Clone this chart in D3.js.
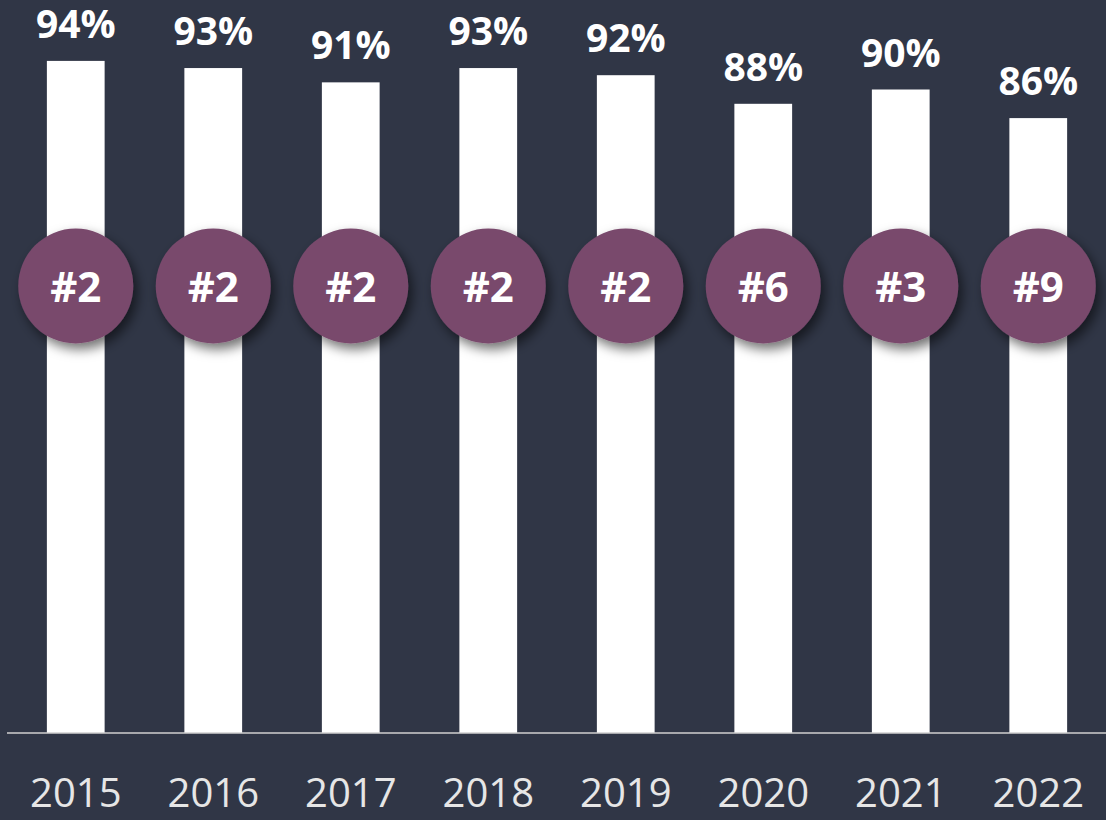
<!DOCTYPE html>
<html><head><meta charset="utf-8">
<script src="https://cdn.jsdelivr.net/npm/d3@7"></script>
<style>html,body{margin:0;padding:0;background:#303646;}svg{display:block;}</style>
</head><body>
<svg id="chart" width="1106" height="820"></svg>
<script>
const years = ["2015","2016","2017","2018","2019","2020","2021","2022"];
const values = [94, 93, 91, 93, 92, 88, 90, 86];
const ranks = ["#2","#2","#2","#2","#2","#6","#3","#9"];

const W = 1106, H = 820;
const svg = d3.select("#chart");
svg.append("rect").attr("width", W).attr("height", H).attr("fill", "#303646");

const defs = svg.append("defs");
const f = defs.append("filter").attr("id","shadow").attr("x","-50%").attr("y","-50%").attr("width","200%").attr("height","200%");
f.append("feDropShadow").attr("dx",4).attr("dy",6).attr("stdDeviation",6).attr("flood-color","#000").attr("flood-opacity",0.55);

const x = d3.scaleBand().domain(years).range([7, 1107]).paddingInner(0.58).paddingOuter(0.29);
const y = d3.scaleLinear().domain([0, 100]).range([733, 18]);

svg.selectAll("rect.bar").data(years).join("rect")
  .attr("class","bar")
  .attr("x", d => x(d))
  .attr("width", x.bandwidth())
  .attr("y", (d,i) => y(values[i]))
  .attr("height", (d,i) => y(0) - y(values[i]))
  .attr("fill", "#ffffff");

svg.selectAll("text.val").data(years).join("text")
  .attr("class","val")
  .attr("x", d => x(d) + x.bandwidth()/2)
  .attr("y", (d,i) => y(values[i]) - 23)
  .attr("text-anchor","middle")
  .attr("font-family","'Open Sans', sans-serif")
  .attr("font-weight","bold")
  .attr("font-size", 39)
  .attr("fill","#ffffff")
  .text((d,i) => values[i] + "%");

const cy = 286;
svg.selectAll("circle.rank").data(years).join("circle")
  .attr("class","rank")
  .attr("cx", d => x(d) + x.bandwidth()/2)
  .attr("cy", cy)
  .attr("r", 57.5)
  .attr("fill","#79496c")
  .attr("filter","url(#shadow)");

svg.selectAll("text.rank").data(years).join("text")
  .attr("class","rank")
  .attr("x", d => x(d) + x.bandwidth()/2)
  .attr("y", cy + 16)
  .attr("text-anchor","middle")
  .attr("font-family","'Open Sans', sans-serif")
  .attr("font-weight","bold")
  .attr("font-size", 42)
  .attr("fill","#ffffff")
  .text((d,i) => ranks[i]);

const axis = svg.append("g").attr("transform", `translate(0,${y(0)})`)
  .call(d3.axisBottom(x).tickSize(0).tickPadding(46));
axis.select(".domain").attr("stroke","#d0d0d0").attr("stroke-width",1.5).attr("d","M7,0H1106");
axis.selectAll("text")
  .attr("font-family","'Open Sans', sans-serif")
  .attr("font-size", 40)
  .attr("fill","#e6e6e6");
</script>
</body></html>
